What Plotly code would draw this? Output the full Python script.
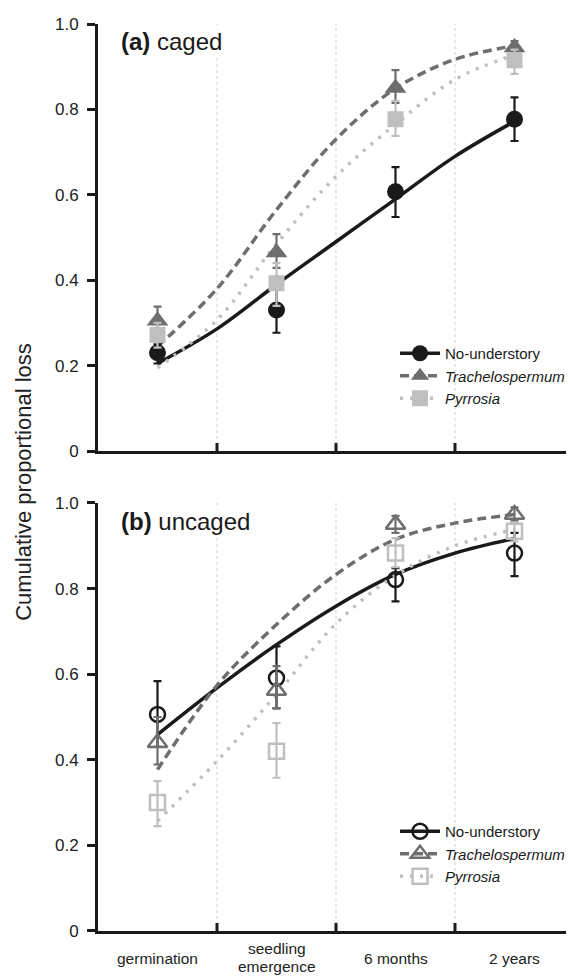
import plotly.graph_objects as go

# ---------------- data ----------------
categories = ["germination", "seedling<br>emergence", "6 months", "2 years"]
series_names = ["No-understory", "<i>Trachelospermum</i>", "<i>Pyrrosia</i>"]
y_tickvals = [0, 0.2, 0.4, 0.6, 0.8, 1.0]
y_ticktext = ["0", "0.2", "0.4", "0.6", "0.8", "1.0"]

# (a) caged: observed means and error-bar limits
caged_no = [0.23, 0.33, 0.607, 0.777]
caged_no_hi = [0.25, 0.38, 0.665, 0.828]
caged_no_lo = [0.205, 0.277, 0.548, 0.726]
caged_tr = [0.305, 0.465, 0.85, 0.945]
caged_tr_hi = [0.338, 0.508, 0.892, 0.96]
caged_tr_lo = [0.278, 0.429, 0.815, 0.93]
caged_py = [0.272, 0.393, 0.777, 0.915]
caged_py_hi = [0.30, 0.44, 0.82, 0.94]
caged_py_lo = [0.242, 0.34, 0.738, 0.883]

# (b) uncaged
uncaged_no = [0.506, 0.591, 0.821, 0.883]
uncaged_no_hi = [0.584, 0.665, 0.848, 0.93]
uncaged_no_lo = [0.43, 0.52, 0.77, 0.829]
uncaged_tr = [0.44, 0.562, 0.95, 0.973]
uncaged_tr_hi = [0.50, 0.619, 0.97, 0.99]
uncaged_tr_lo = [0.389, 0.521, 0.93, 0.958]
uncaged_py = [0.30, 0.42, 0.883, 0.934]
uncaged_py_hi = [0.35, 0.486, 0.918, 0.955]
uncaged_py_lo = [0.245, 0.358, 0.85, 0.91]

# fitted curves at positions along the category axis
curve_x = [0, 0.5, 1, 1.5, 2, 2.5, 3]
caged_no_curve = [0.205, 0.286, 0.39, 0.49, 0.59, 0.69, 0.772]
caged_tr_curve = [0.245, 0.38, 0.565, 0.73, 0.849, 0.917, 0.949]
caged_py_curve = [0.195, 0.307, 0.485, 0.643, 0.765, 0.87, 0.928]
uncaged_no_curve = [0.459, 0.568, 0.669, 0.759, 0.833, 0.883, 0.917]
uncaged_tr_curve = [0.377, 0.574, 0.716, 0.833, 0.915, 0.953, 0.973]
uncaged_py_curve = [0.257, 0.397, 0.553, 0.718, 0.831, 0.9, 0.938]

# ---------------- styles ----------------
BLACK = "#1a1a1a"
DARK = "#6e6e6e"
LIGHT = "#bfbfbf"
FONT = "Liberation Sans, Arial, Helvetica, sans-serif"
colors = [BLACK, DARK, LIGHT]
dashes = ["solid", "9px,5px", "3px,7px"]
filled = ["circle", "triangle-up", "square"]
opened = ["circle-open", "triangle-up-open", "square-open"]
fsizes = [17, 19, 16]
osizes = [15, 17, 15]

xs = list(range(len(categories)))
fig = go.Figure()

panels = [
    ("x", "y", "legend",
     [caged_no_curve, caged_tr_curve, caged_py_curve],
     [(caged_no, caged_no_hi, caged_no_lo), (caged_tr, caged_tr_hi, caged_tr_lo),
      (caged_py, caged_py_hi, caged_py_lo)], filled, fsizes),
    ("x2", "y2", "legend2",
     [uncaged_no_curve, uncaged_tr_curve, uncaged_py_curve],
     [(uncaged_no, uncaged_no_hi, uncaged_no_lo), (uncaged_tr, uncaged_tr_hi, uncaged_tr_lo),
      (uncaged_py, uncaged_py_hi, uncaged_py_lo)], opened, osizes),
]

for xa, ya, leg, curves, obs, symbols, sizes in panels:
    # fitted curves
    for i, cv in enumerate(curves):
        fig.add_trace(go.Scatter(
            x=curve_x, y=cv, mode="lines", xaxis=xa, yaxis=ya,
            line=dict(color=colors[i], width=3.5, dash=dashes[i], shape="spline", smoothing=1.0),
            showlegend=False, hoverinfo="skip"))
    # observed points with error bars
    for i, (v, hi, lo) in enumerate(obs):
        mk = dict(symbol=symbols[i], size=sizes[i], color=colors[i])
        if "open" in symbols[i]:
            mk["line"] = dict(width=2.5, color=colors[i])
        else:
            mk["line"] = dict(width=0)
        fig.add_trace(go.Scatter(
            x=xs, y=v, mode="markers", xaxis=xa, yaxis=ya, cliponaxis=False,
            marker=mk,
            error_y=dict(type="data", symmetric=False,
                         array=[h - m for h, m in zip(hi, v)],
                         arrayminus=[m - l for m, l in zip(v, lo)],
                         color=colors[i], thickness=2.2, width=4),
            showlegend=False))
    # legend entries
    for i, nm in enumerate(series_names):
        mk = dict(symbol=symbols[i], size=sizes[i], color=colors[i])
        if "open" in symbols[i]:
            mk["line"] = dict(width=2.5, color=colors[i])
        fig.add_trace(go.Scatter(
            x=[None], y=[None], mode="lines+markers", xaxis=xa, yaxis=ya,
            name=nm, legend=leg, marker=mk,
            line=dict(color=colors[i], width=3.5, dash=dashes[i])))

# category boundaries: dashed guide lines and crossing tick marks
bounds = [i + 0.5 for i in range(len(categories) - 1)]
shapes = []
for xa, ya in (("x", "y"), ("x2", "y2")):
    for b in bounds:
        shapes.append(dict(type="line", xref=xa, yref=ya, x0=b, x1=b, y0=0, y1=1,
                           line=dict(color="#d0d0d0", width=1, dash="3px,3px"), layer="below"))
        shapes.append(dict(type="line", xref=xa, yref=ya, x0=b, x1=b,
                           ysizemode="pixel", yanchor=0, y0=-8, y1=8,
                           line=dict(color=BLACK, width=3), layer="above"))

annotations = []
# x category labels below the lower panel (multi-line labels laid out line by line)
LABEL_Y_PX = 951       # centre of a one-line label, in page pixels
LINE_STEP_PX = 18      # distance between lines of a two-line label
PLOT_BOTTOM_PX = 923
PLOT_H_PX = 907
for i, c in enumerate(categories):
    lines = c.split("<br>")
    n = len(lines)
    for k, ln in enumerate(lines):
        ypx = LABEL_Y_PX + (k - (n - 1) / 2) * LINE_STEP_PX - (2 if n > 1 else 0)
        annotations.append(dict(x=i, xref="x2",
                                y=-(ypx - PLOT_BOTTOM_PX) / PLOT_H_PX, yref="paper",
                                text=ln, showarrow=False, xanchor="center", yanchor="middle",
                                font=dict(size=15.5, color="#222", family=FONT)))
# y axis title
annotations.append(dict(x=-0.158, xref="paper", y=0.495, yref="paper",
                        text="Cumulative proportional loss", textangle=-90,
                        showarrow=False, xanchor="center", yanchor="middle",
                        font=dict(size=22, color="#222", family=FONT)))
# panel labels
annotations.append(dict(x=0.044, xref="paper", y=0.981, yref="paper",
                        text="<b>(a)</b> caged", showarrow=False,
                        xanchor="left", yanchor="middle", bgcolor="white",
                        font=dict(size=24, color="#1a1a1a", family=FONT)))
annotations.append(dict(x=0.044, xref="paper", y=0.452, yref="paper",
                        text="<b>(b)</b> uncaged", showarrow=False,
                        xanchor="left", yanchor="middle", bgcolor="white",
                        font=dict(size=24, color="#1a1a1a", family=FONT)))

xaxis_common = dict(range=[-0.5, 3.5], showline=True, linewidth=3, linecolor=BLACK,
                    showgrid=False, zeroline=False, showticklabels=False, ticks="",
                    domain=[0, 1])
yaxis_common = dict(range=[0, 1], tickvals=y_tickvals, ticktext=y_ticktext,
                    ticks="outside", ticklen=8, tickwidth=3, tickcolor=BLACK,
                    ticklabelstandoff=5,
                    showline=True, linewidth=3, linecolor=BLACK,
                    showgrid=False, zeroline=False,
                    tickfont=dict(size=17, color="#222", family=FONT))

legend_common = dict(xanchor="left", yanchor="top", bgcolor="rgba(0,0,0,0)",
                     font=dict(size=15, color="#1a1a1a", family=FONT),
                     itemwidth=40, tracegroupgap=0)

fig.update_layout(
    width=574, height=977,
    margin=dict(l=90, r=8, t=16, b=54, autoexpand=False),
    paper_bgcolor="white", plot_bgcolor="white",
    font=dict(family=FONT, color="#222"),
    xaxis=dict(anchor="y", **xaxis_common),
    yaxis=dict(anchor="x", domain=[0.5292, 1.0], **yaxis_common),
    xaxis2=dict(anchor="y2", **xaxis_common),
    yaxis2=dict(anchor="x2", domain=[0.0, 0.4719], **yaxis_common),
    legend=dict(x=0.624, y=0.6549, **legend_common),
    legend2=dict(x=0.624, y=0.1279, **legend_common),
    shapes=shapes,
    annotations=annotations,
    showlegend=True,
)

fig.write_html("out.html")
